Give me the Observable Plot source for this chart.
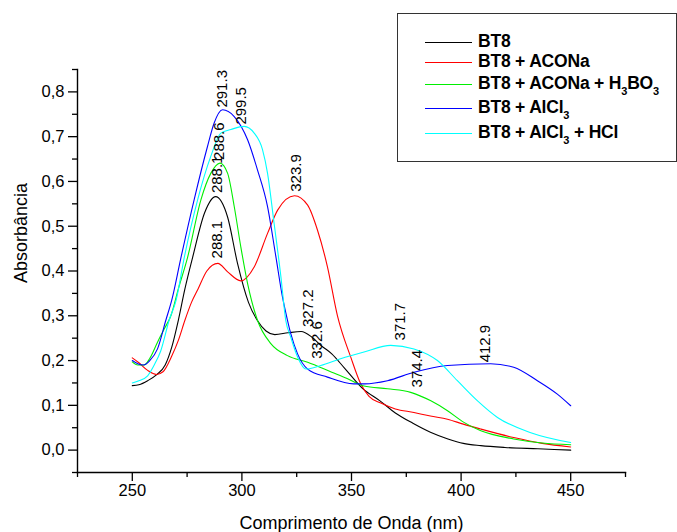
<!DOCTYPE html>
<html>
<head>
<meta charset="utf-8">
<script src="https://cdn.jsdelivr.net/npm/d3@7"></script>
<script src="https://cdn.jsdelivr.net/npm/@observablehq/plot@0.6"></script>
<style>
  html, body { margin: 0; padding: 0; background: #fff; }
  #wrap { position: relative; width: 677px; height: 532px; overflow: hidden; }
  #legend { position: absolute; left: 397px; top: 13px; width: 280px; height: 149px;
    box-sizing: border-box; border: 1.5px solid #333; background: #fff;
    font-family: "Liberation Sans", Arial, sans-serif; font-weight: bold; font-size: 17.5px; color: #000; }
  .row { position: absolute; left: 0; height: 17px; line-height: 17px; white-space: nowrap; }
  .row .sw { position: absolute; left: 27px; width: 47px; height: 0; border-top: 1.2px solid; top: 9px; }
  .row .tx { position: absolute; left: 80px; top: 0; letter-spacing: -0.2px; }
  .row sub { font-size: 11px; vertical-align: baseline; position: relative; top: 6px; }
</style>
</head>
<body>
<div id="wrap"></div>
<script>
// ---- data ----
const seriesNames = ["BT8", "BT8 + ACONa", "BT8 + ACONa + H3BO3", "BT8 + AlCl3", "BT8 + AlCl3 + HCl"];
const seriesColors = ["#000000", "#ff0000", "#00ee00", "#0000ff", "#00ffff"];

const bt8Nm  = [250, 253, 257, 261, 265, 268, 271, 274, 277.5, 283, 288, 293.5, 298, 303, 307, 311, 315, 321, 327, 332, 336, 341, 347, 355, 363, 370, 378, 386, 394, 401, 409, 420, 435, 450];
const bt8Abs = [0.144, 0.146, 0.155, 0.168, 0.19, 0.23, 0.29, 0.36, 0.43, 0.53, 0.566, 0.52, 0.417, 0.33, 0.29, 0.266, 0.258, 0.262, 0.265, 0.252, 0.234, 0.215, 0.182, 0.138, 0.11, 0.083, 0.06, 0.04, 0.025, 0.015, 0.01, 0.006, 0.003, 0.0];

const aconaNm  = [250, 253, 257, 261, 264, 268, 271, 274, 277, 280, 284, 289, 293.5, 299.5, 305.6, 311.7, 316.3, 324, 330, 334.5, 339, 343.6, 349.7, 354.2, 358, 363.4, 370, 378.5, 386, 393.8, 401, 409, 424, 437, 450];
const aconaAbs = [0.206, 0.195, 0.178, 0.169, 0.175, 0.21, 0.245, 0.29, 0.33, 0.36, 0.40, 0.417, 0.398, 0.378, 0.409, 0.484, 0.536, 0.568, 0.547, 0.491, 0.41, 0.30, 0.207, 0.148, 0.12, 0.105, 0.092, 0.084, 0.076, 0.069, 0.058, 0.047, 0.028, 0.015, 0.007];

const boricNm  = [250, 252.5, 255.4, 258, 261.5, 264.5, 267.6, 271, 275.2, 281.3, 285.8, 290, 293.5, 296.5, 299.5, 302.6, 307.1, 313.2, 320.8, 330, 341, 348, 355.7, 366.4, 377, 386.2, 393.8, 401.3, 409, 424, 437, 450];
const boricAbs = [0.197, 0.19, 0.19, 0.205, 0.241, 0.27, 0.30, 0.36, 0.43, 0.559, 0.618, 0.641, 0.618, 0.544, 0.454, 0.372, 0.29, 0.238, 0.211, 0.196, 0.174, 0.16, 0.143, 0.137, 0.129, 0.11, 0.088, 0.062, 0.043, 0.025, 0.016, 0.012];

const alclNm  = [250, 252.5, 255, 258, 261.5, 265.3, 268, 272.2, 278.2, 284.3, 287.3, 291.2, 296.5, 302.6, 307.1, 311.7, 315.5, 318.5, 320.8, 322.3, 325.4, 330, 339, 351, 356, 366.4, 378.5, 393.8, 413.5, 424, 434.8, 443.9, 450];
const alclAbs = [0.20, 0.193, 0.19, 0.2, 0.226, 0.29, 0.335, 0.43, 0.559, 0.678, 0.73, 0.76, 0.745, 0.693, 0.626, 0.544, 0.432, 0.342, 0.29, 0.26, 0.215, 0.181, 0.163, 0.148, 0.148, 0.155, 0.174, 0.189, 0.193, 0.185, 0.155, 0.125, 0.099];

const hclNm  = [250, 253, 257, 260, 263, 266.8, 270, 273.7, 279.8, 285.8, 290.4, 295, 301, 305.6, 309.4, 311.7, 314.7, 317.8, 320, 322.3, 325.4, 329.2, 336, 345, 355.7, 367.9, 378.5, 389.2, 398.3, 407.5, 416.6, 431.8, 450];
const hclAbs = [0.15, 0.155, 0.166, 0.19, 0.222, 0.29, 0.335, 0.43, 0.559, 0.656, 0.708, 0.716, 0.723, 0.708, 0.671, 0.618, 0.506, 0.387, 0.29, 0.252, 0.208, 0.181, 0.189, 0.204, 0.219, 0.234, 0.226, 0.2, 0.155, 0.11, 0.073, 0.039, 0.017];

const peakText = ["291.3", "299.5", "288.6", "288.1", "288.1", "323.9", "327.2", "332.6", "371.7", "374.4", "412.9"];
const peakNm   = [291.2, 299.5, 289.6, 288.9, 288.9, 324.6, 330.3, 334.5, 372, 379.8, 411.2];
const peakAbs  = [0.765, 0.727, 0.648, 0.574, 0.428, 0.577, 0.275, 0.204, 0.245, 0.14, 0.196];

const xMajor = [250, 300, 350, 400, 450];
const xMinor = [225, 275, 325, 375, 425, 475];
const yMajor = [0, 0.1, 0.2, 0.3, 0.4, 0.5, 0.6, 0.7, 0.8];
const yMinor = [-0.05, 0.05, 0.15, 0.25, 0.35, 0.45, 0.55, 0.65, 0.75, 0.85];
const xTitle = "Comprimento de Onda (nm)";
const yTitle = "Absorbância";

// ---- build tables ----
const allNm = [bt8Nm, aconaNm, boricNm, alclNm, hclNm];
const allAbs = [bt8Abs, aconaAbs, boricAbs, alclAbs, hclAbs];
const rows = [];
allNm.forEach((nms, s) => nms.forEach((nm, i) => rows.push({series: seriesNames[s], nm, abs: allAbs[s][i]})));
const peaks = peakText.map((t, i) => ({t, nm: peakNm[i], abs: peakAbs[i]}));

const fmt = d => d.toFixed(1).replace(".", ",");

const chart = Plot.plot({
  width: 677,
  height: 532,
  marginLeft: 77,
  marginRight: 52,
  marginTop: 69,
  marginBottom: 60,
  style: {fontFamily: "'Liberation Sans', Arial, sans-serif", fontSize: "16px", background: "#fff", color: "#000"},
  x: {domain: [225, 475]},
  y: {domain: [-0.05, 0.85]},
  color: {domain: seriesNames, range: seriesColors},
  marks: [
    Plot.frame({anchor: "bottom", stroke: "#000", strokeWidth: 1.4}),
    Plot.frame({anchor: "left", stroke: "#000", strokeWidth: 1.4}),
    Plot.axisX({ticks: xMajor, tickSize: 9, tickPadding: 3, label: null, fontSize: 16.5, strokeWidth: 1.3}),
    Plot.axisX({ticks: xMinor, tickSize: 5, text: null, label: null, strokeWidth: 1.3}),
    Plot.axisX({ticks: [], label: xTitle, labelAnchor: "center", labelArrow: "none", labelOffset: 56, fontSize: 18}),
    Plot.axisY({ticks: yMajor, tickSize: 9, tickPadding: 4, tickFormat: fmt, label: null, fontSize: 16.5, strokeWidth: 1.3}),
    Plot.axisY({ticks: yMinor, tickSize: 5, text: null, label: null, strokeWidth: 1.3}),
    Plot.text([yTitle], {frameAnchor: "left", rotate: -90, dx: -56, dy: 12, fontSize: 18, fill: "#000"}),
    Plot.line(rows, {x: "nm", y: "abs", z: "series", stroke: "series", curve: "monotone-x", strokeWidth: 1.1}),
    Plot.text(peaks, {x: "nm", y: "abs", text: "t", rotate: -90, textAnchor: "start", fontSize: 15, fill: "#000"})
  ]
});

const wrap = document.getElementById("wrap");
wrap.appendChild(chart);

// ---- legend ----
const legendLabels = ["BT8", "BT8 + ACONa", "BT8 + ACONa + H<sub>3</sub>BO<sub>3</sub>", "BT8 + AlCl<sub>3</sub>", "BT8 + AlCl<sub>3</sub> + HCl"];
const legendTops = [19, 39, 60.5, 85, 109.5];
const legend = document.createElement("div");
legend.id = "legend";
legendLabels.forEach((lab, i) => {
  const r = document.createElement("div");
  r.className = "row";
  r.style.top = legendTops[i] + "px";
  r.innerHTML = `<span class="sw" style="border-color:${seriesColors[i]}"></span><span class="tx">${lab}</span>`;
  legend.appendChild(r);
});
wrap.appendChild(legend);
</script>
</body>
</html>
